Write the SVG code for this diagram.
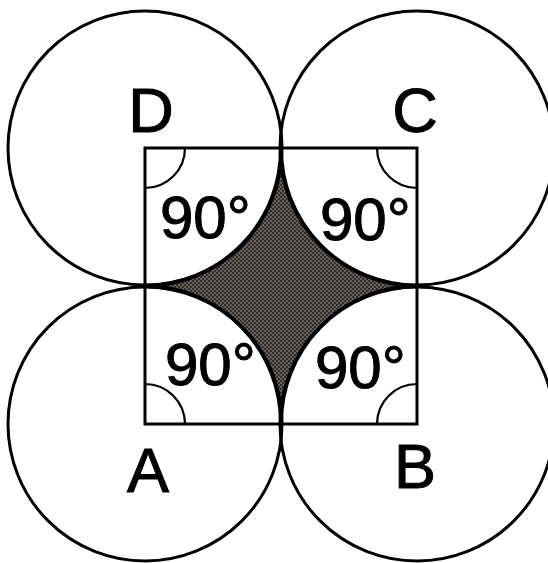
<svg xmlns="http://www.w3.org/2000/svg" width="548" height="563" viewBox="0 0 548 563">
  <defs>
    <pattern id="dots" width="4" height="4" patternUnits="userSpaceOnUse">
      <rect width="4" height="4" fill="#66605a"/>
      <circle cx="1" cy="1" r="1.1" fill="#2a2622"/>
      <circle cx="3" cy="3" r="1.1" fill="#2a2622"/>
    </pattern>
    <style>
      .line { fill: none; stroke: #000; stroke-width: 3; }
      .thin { fill: none; stroke: #000; stroke-width: 2.2; }
      .lbl { font-family: "Liberation Sans", Arial, Helvetica, sans-serif; fill: #000; stroke: #000; stroke-width: 1; }
      .corner { font-size: 63px; text-anchor: middle; }
      .ang { font-size: 60px; }
    </style>
  </defs>
  <rect width="548" height="563" fill="#fff"/>

  <g id="shaded-region">
    <path d="M 281 148 A 137 137 0 0 1 145 286 A 137 137 0 0 1 281 424 A 137 137 0 0 1 417 286 A 137 137 0 0 1 281 148 Z" fill="url(#dots)" stroke="#000" stroke-width="4"/>
  </g>

  <g id="circles">
    <circle id="circle-D" class="line" cx="145" cy="148" r="137"/>
    <circle id="circle-C" class="line" cx="417" cy="148" r="137"/>
    <circle id="circle-A" class="line" cx="145" cy="424" r="137"/>
    <circle id="circle-B" class="line" cx="417" cy="424" r="137"/>
  </g>

  <g id="square">
    <rect class="line" x="145" y="148" width="272" height="276"/>
  </g>

  <g id="angle-marks">
    <path class="thin" d="M 185 148 A 40 40 0 0 1 145 188"/>
    <path class="thin" d="M 417 188 A 40 40 0 0 1 377 148"/>
    <path class="thin" d="M 145 384 A 40 40 0 0 1 185 424"/>
    <path class="thin" d="M 377 424 A 40 40 0 0 1 417 384"/>
  </g>

  <g id="labels">
    <text class="lbl corner" x="151" y="132">D</text>
    <text class="lbl corner" x="415" y="132">C</text>
    <text class="lbl corner" x="148" y="492">A</text>
    <text class="lbl corner" x="415" y="488">B</text>
    <text class="lbl ang" x="160" y="238">90°</text>
    <text class="lbl ang" x="320" y="240">90°</text>
    <text class="lbl ang" x="165" y="385">90°</text>
    <text class="lbl ang" x="315" y="388">90°</text>
  </g>
</svg>
